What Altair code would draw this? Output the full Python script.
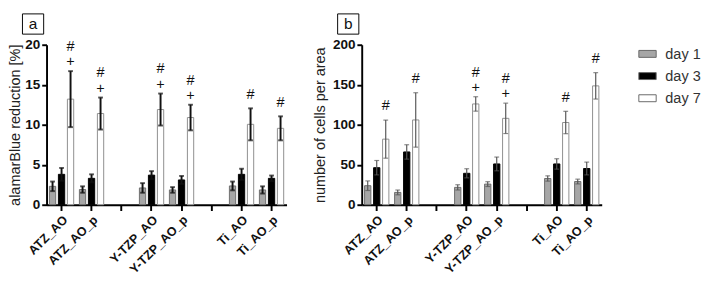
import altair as alt
import pandas as pd

FONT = "Liberation Sans"

groups = ["ATZ_AO", "ATZ_AO_p", "Y-TZP_AO", "Y-TZP_AO_p", "Ti_AO", "Ti_AO_p"]
x_domain = ["ATZ_AO", "ATZ_AO_p", " ", "Y-TZP_AO", "Y-TZP_AO_p", "  ", "Ti_AO", "Ti_AO_p"]
days = ["day 1", "day 3", "day 7"]

# panel a: alamarBlue reduction [%]
a_day1 = [2.3, 1.9, 2.1, 1.85, 2.35, 1.85]
a_day1_sd = [0.6, 0.4, 0.6, 0.35, 0.55, 0.45]
a_day3 = [3.8, 3.3, 3.7, 3.1, 3.8, 3.3]
a_day3_sd = [0.8, 0.5, 0.5, 0.5, 0.7, 0.35]
a_day7 = [13.2, 11.4, 11.9, 10.9, 10.05, 9.55]
a_day7_sd = [3.5, 2.0, 2.0, 1.6, 2.0, 1.5]
a_marks = ["#+", "#+", "#+", "#+", "#", "#"]

# panel b: number of cells per area
b_day1 = [23.8, 15.4, 21.7, 25.8, 32.8, 29.0]
b_day1_sd = [6.0, 3.0, 3.3, 3.0, 3.3, 3.0]
b_day3 = [46.3, 66.0, 39.3, 51.0, 51.0, 45.3]
b_day3_sd = [9.0, 9.0, 5.7, 8.6, 6.5, 8.0]
b_day7 = [82.0, 106.0, 126.0, 108.0, 102.8, 148.6]
b_day7_sd = [23.8, 34.0, 9.0, 19.0, 14.0, 16.5]
b_marks = ["#", "#", "#+", "#+", "#", "#"]

fills = ["#a6a6a6", "#000000", "#ffffff"]
strokes = ["#6b6b6b", "#000000", "#8c8c8c"]


def build(d1, s1, d3, s3, d7, s7, marks):
    rows = []
    for day, m, s in zip(days, [d1, d3, d7], [s1, s3, s7]):
        for i, g in enumerate(groups):
            rows.append(dict(group=g, day=day, mean=m[i], lo=m[i] - s[i], hi=m[i] + s[i],
                             mark=marks[i] if day == "day 7" else ""))
    return pd.DataFrame(rows)


def panel(df, ymax, ystep, title, letter, err_w, err_col, show_legend, title_pad):
    xenc = alt.X("group:N",
                 scale=alt.Scale(domain=x_domain, paddingInner=0.1, paddingOuter=0.05),
                 axis=alt.Axis(title=None, labelAngle=-45, labelFont=FONT, labelFontSize=13,
                               labelFontWeight="bold", labelColor="#111", tickSize=6, tickWidth=2,
                               tickColor="#000", domainWidth=2, domainColor="#000", labelPadding=3))
    xoff = alt.XOffset("day:N", scale=alt.Scale(domain=days, paddingInner=0.3, paddingOuter=0.15))
    yscale = alt.Scale(domain=[0, ymax], nice=False)
    yaxis = alt.Axis(title=title, values=list(range(0, ymax + 1, ystep)), grid=False,
                     labelFont=FONT, labelFontSize=14, labelFontWeight="bold", labelColor="#111",
                     tickSize=5, tickWidth=2, tickColor="#000", domainWidth=2, domainColor="#000",
                     labelPadding=2, titleFont=FONT, titleFontSize=15, titleFontWeight="normal",
                     titleColor="#222", titlePadding=title_pad)
    if show_legend:
        legend = alt.Legend(title=None, orient="right", offset=38, padding=0,
                            symbolType="M-1,-0.4H1V0.4H-1Z", symbolSize=324,
                            symbolStrokeColor="#666", symbolStrokeWidth=1,
                            labelFont=FONT, labelFontSize=15, labelColor="#333",
                            labelOffset=9, rowPadding=5)
    else:
        legend = None
    bars = alt.Chart(df).mark_bar(strokeWidth=1).encode(
        x=xenc, xOffset=xoff,
        y=alt.Y("mean:Q", scale=yscale, axis=yaxis),
        fill=alt.Fill("day:N", scale=alt.Scale(domain=days, range=fills), legend=legend),
        stroke=alt.Stroke("day:N", scale=alt.Scale(domain=days, range=strokes), legend=None),
    )
    err = alt.Chart(df).mark_rule(strokeWidth=err_w, color=err_col).encode(
        x=xenc, xOffset=xoff, y=alt.Y("lo:Q", scale=yscale, axis=yaxis), y2="hi:Q")
    cap_hi = alt.Chart(df).mark_tick(orient="horizontal", size=5, thickness=err_w, color=err_col).encode(
        x=xenc, xOffset=xoff, y=alt.Y("hi:Q", scale=yscale, axis=yaxis))
    cap_lo = alt.Chart(df).mark_tick(orient="horizontal", size=5, thickness=err_w, color=err_col).encode(
        x=xenc, xOffset=xoff, y=alt.Y("lo:Q", scale=yscale, axis=yaxis))
    tstyle = dict(baseline="middle", fontSize=15, font=FONT, color="#111")
    plus = alt.Chart(df).transform_filter("indexof(datum.mark, '+') >= 0").mark_text(
        text="+", dy=-10, **tstyle).encode(
        x=xenc, xOffset=xoff, y=alt.Y("hi:Q", scale=yscale, axis=yaxis))
    hash_hi = alt.Chart(df).transform_filter("datum.mark == '#+'").mark_text(
        text="#", dy=-26, **tstyle).encode(
        x=xenc, xOffset=xoff, y=alt.Y("hi:Q", scale=yscale, axis=yaxis))
    hash_lo = alt.Chart(df).transform_filter("datum.mark == '#'").mark_text(
        text="#", dy=-15, **tstyle).encode(
        x=xenc, xOffset=xoff, y=alt.Y("hi:Q", scale=yscale, axis=yaxis))
    lab = pd.DataFrame({"letter": [letter]})
    box = alt.Chart(lab).mark_rect(fill="white", stroke="#000", strokeWidth=1).encode(
        x=alt.value(-25), x2=alt.value(-3), y=alt.value(-32), y2=alt.value(-11))
    box_txt = alt.Chart(lab).mark_text(fontSize=16, font=FONT, color="#111").encode(
        x=alt.value(-14), y=alt.value(-21.5), text="letter:N")
    return alt.layer(bars, err, cap_hi, cap_lo, plus, hash_hi, hash_lo, box, box_txt).properties(
        width=249, height=166)


df_a = build(a_day1, a_day1_sd, a_day3, a_day3_sd, a_day7, a_day7_sd, a_marks)
df_b = build(b_day1, b_day1_sd, b_day3, b_day3_sd, b_day7, b_day7_sd, b_marks)

pa = panel(df_a, 20, 5, "alamarBlue reduction [%]", "a", 2, "#111", False, 2)
pb = panel(df_b, 200, 50, "number of cells per area", "b", 1.2, "#555", True, 5)

chart = alt.hconcat(pa, pb, spacing=27).resolve_legend(fill="independent").properties(
    padding=0, background="white"
).configure_view(stroke=None)

chart.save("out.html", embed_options={"renderer": "svg", "actions": False})
